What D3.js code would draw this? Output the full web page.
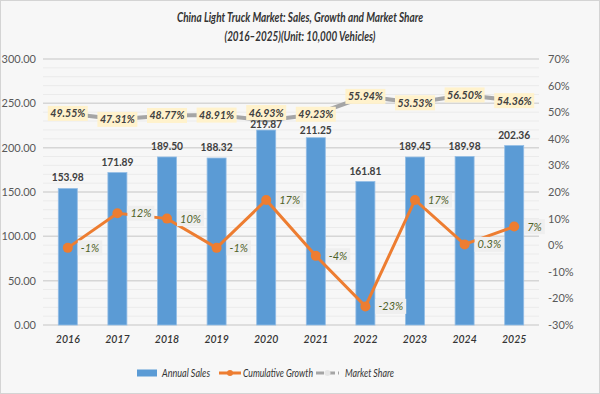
<!DOCTYPE html>
<html>
<head>
<meta charset="utf-8">
<script src="https://cdn.jsdelivr.net/npm/d3@7"></script>
<style>
  body { margin: 0; background: #fff; }
  svg text { font-family: Lato, "Noto Sans", sans-serif; }
</style>
</head>
<body>
<div id="chart"></div>
<script>
const years = ["2016", "2017", "2018", "2019", "2020", "2021", "2022", "2023", "2024", "2025"];
const sales = [153.98, 171.89, 189.50, 188.32, 219.87, 211.25, 161.81, 189.45, 189.98, 202.36];
const growth = [-1, 12, 10, -1, 17, -4, -23, 17, 0.3, 7];
const growthLabels = ["-1%", "12%", "10%", "-1%", "17%", "-4%", "-23%", "17%", "0.3%", "7%"];
const share = [49.55, 47.31, 48.77, 48.91, 46.93, 49.23, 55.94, 53.53, 56.50, 54.36];
const leftTicks = [0, 50, 100, 150, 200, 250, 300];
const rightTicks = [-30, -20, -10, 0, 10, 20, 30, 40, 50, 60, 70];

const W = 600, H = 394;
const margin = { t: 59, r: 61, b: 69, l: 43 };

const svg = d3.select("#chart").append("svg")
  .attr("width", W).attr("height", H);

// background + frame
svg.append("rect").attr("x", 0.5).attr("y", 0.5)
  .attr("width", W - 1).attr("height", H - 1)
  .attr("fill", "#f7f7f7").attr("stroke", "#d4d4d4");

var scale = {
  x: d3.scaleBand().domain(years).range([margin.l, W - margin.r]),
  y: d3.scaleLinear().domain([0, 300]).range([H - margin.b, margin.t]),
  y2: d3.scaleLinear().domain([-30, 70]).range([H - margin.b, margin.t])
};
const cx = (d, i) => scale.x(years[i]) + scale.x.bandwidth() / 2;

// squeeze a text to a max width (reference uses a condensed face)
function fit(sel, maxW) {
  sel.each(function () {
    if (this.getComputedTextLength() > maxW) {
      d3.select(this).attr("textLength", maxW).attr("lengthAdjust", "spacingAndGlyphs");
    }
  });
  return sel;
}

// title
svg.append("text").attr("x", W / 2).attr("y", 22)
  .attr("text-anchor", "middle").attr("font-size", 13.5).attr("font-style", "italic")
  .attr("font-weight", 700).attr("fill", "#333")
  .text("China Light Truck Market: Sales, Growth and Market Share")
  .call(fit, 246);
svg.append("text").attr("x", W / 2).attr("y", 41)
  .attr("text-anchor", "middle").attr("font-size", 13.5).attr("font-style", "italic")
  .attr("font-weight", 700).attr("fill", "#333")
  .text("(2016\u20132025)(Unit: 10,000 Vehicles)")
  .call(fit, 151);

// minor + major gridlines
const grid = svg.append("g");
grid.selectAll("line.minor")
  .data(d3.range(0, 301, 10).filter(v => v % 50 !== 0))
  .join("line")
  .attr("x1", margin.l).attr("x2", W - margin.r)
  .attr("y1", d => scale.y(d)).attr("y2", d => scale.y(d))
  .attr("stroke", "#ebebeb").attr("stroke-width", 1);
grid.selectAll("line.major")
  .data(leftTicks)
  .join("line")
  .attr("x1", margin.l).attr("x2", W - margin.r)
  .attr("y1", d => scale.y(d)).attr("y2", d => scale.y(d))
  .attr("stroke", "#d6d6d6").attr("stroke-width", 1.5);

// left axis
const yAxis = d3.axisLeft(scale.y).tickValues(leftTicks)
  .tickFormat(d3.format(".2f")).tickSize(0).tickPadding(7);
svg.append("g").attr("transform", "translate(" + margin.l + ",0)")
  .call(yAxis)
  .call(g => g.select(".domain").remove())
  .call(g => g.selectAll("text").attr("font-size", 11).attr("fill", "#595959"));

// right axis
const y2Axis = d3.axisRight(scale.y2).tickValues(rightTicks)
  .tickFormat(d => d + "%").tickSize(0).tickPadding(9);
svg.append("g").attr("transform", "translate(" + (W - margin.r) + ",0)")
  .call(y2Axis)
  .call(g => g.select(".domain").remove())
  .call(g => g.selectAll("text").attr("font-size", 11).attr("fill", "#595959"));

// x axis labels
const xAxis = d3.axisBottom(scale.x).tickSize(0).tickPadding(11);
svg.append("g").attr("transform", "translate(0," + (H - margin.b) + ")")
  .call(xAxis)
  .call(g => g.select(".domain").remove())
  .call(g => g.selectAll("text").attr("font-size", 10.5).attr("font-style", "italic")
    .attr("font-weight", 600).attr("fill", "#333"));

// label placement: sales label above bar, share label box centred on point;
// where they collide, the sales label drops toward the bar and the share box goes up
const boxH = 15;
const place = sales.map((s, i) => {
  const top = scale.y(s);
  let base = top - 7;
  let sy = scale.y2(share[i]);
  if (base - 9 < sy + boxH / 2) {
    base = Math.min(top - 2, sy + boxH / 2 + 12);
    if (base - 8 < sy + boxH / 2) sy = base - 8 - boxH / 2;
  }
  return { base: base, sy: sy };
});

// bars
const barW = 19;
svg.append("g").selectAll("rect")
  .data(sales)
  .join("rect")
  .attr("x", (d, i) => cx(d, i) - barW / 2)
  .attr("y", d => scale.y(d))
  .attr("width", barW)
  .attr("height", d => scale.y(0) - scale.y(d))
  .attr("fill", "#5b9bd5").attr("stroke", "#93bde5").attr("stroke-width", 0.8);

// market share line
svg.append("path").datum(share)
  .attr("d", d3.line().x(cx).y(d => scale.y2(d)))
  .attr("fill", "none").attr("stroke", "#a5a5a5").attr("stroke-width", 4);

svg.append("g").selectAll("text")
  .data(sales)
  .join("text")
  .attr("x", (d, i) => cx(d, i))
  .attr("y", (d, i) => place[i].base)
  .attr("text-anchor", "middle").attr("font-size", 11.5).attr("font-weight", 700)
  .attr("fill", "#404040")
  .text(d => d.toFixed(2))
  .call(fit, 32);

const shareLab = svg.append("g").selectAll("g")
  .data(share).join("g")
  .attr("transform", (d, i) => "translate(" + cx(d, i) + "," + place[i].sy + ")");
shareLab.append("rect")
  .attr("x", -20).attr("y", -boxH / 2).attr("width", 40).attr("height", boxH)
  .attr("fill", "#fff2cc");
shareLab.append("text")
  .attr("text-anchor", "middle").attr("dy", "0.36em")
  .attr("font-size", 11).attr("font-weight", 700).attr("font-style", "italic")
  .attr("fill", "#404040")
  .text(d => d.toFixed(2) + "%")
  .call(fit, 35);

// cumulative growth line
svg.append("path").datum(growth)
  .attr("d", d3.line().x(cx).y(d => scale.y2(d)))
  .attr("fill", "none").attr("stroke", "#ed7d31").attr("stroke-width", 3);
svg.append("g").selectAll("circle")
  .data(growth).join("circle")
  .attr("cx", cx).attr("cy", d => scale.y2(d)).attr("r", 5)
  .attr("fill", "#ed7d31");

const growLab = svg.append("g").selectAll("g")
  .data(growth).join("g")
  .attr("transform", (d, i) => "translate(" + (cx(d, i) + 10) + "," + scale.y2(d) + ")");
growLab.append("text")
  .attr("x", 3).attr("dy", "0.36em")
  .attr("font-size", 11).attr("font-style", "italic")
  .attr("fill", "#4f6228")
  .text((d, i) => growthLabels[i]);
growLab.each(function () {
  const g = d3.select(this);
  const w = g.select("text").node().getComputedTextLength();
  g.insert("rect", "text")
    .attr("x", 0).attr("y", -boxH / 2).attr("width", w + 6).attr("height", boxH)
    .attr("fill", "#efefef");
});

// legend
const lg = svg.append("g").attr("transform", "translate(0,373)");
lg.append("rect").attr("x", 137).attr("y", -3.5).attr("width", 20).attr("height", 7).attr("fill", "#5b9bd5");
lg.append("text").attr("x", 162).attr("dy", "0.35em").attr("font-size", 11.5)
  .attr("font-style", "italic").attr("fill", "#333").text("Annual Sales").call(fit, 48);
lg.append("line").attr("x1", 219).attr("x2", 241).attr("stroke", "#ed7d31").attr("stroke-width", 3);
lg.append("circle").attr("cx", 230).attr("r", 3).attr("fill", "#ed7d31");
lg.append("text").attr("x", 243).attr("dy", "0.35em").attr("font-size", 11.5)
  .attr("font-style", "italic").attr("fill", "#333").text("Cumulative Growth").call(fit, 70);
lg.append("line").attr("x1", 316).attr("x2", 339).attr("stroke", "#a5a5a5").attr("stroke-width", 3)
  .attr("stroke-dasharray", "8,3");
lg.append("circle").attr("cx", 327.5).attr("r", 3).attr("fill", "#e6e6e6");
lg.append("text").attr("x", 345).attr("dy", "0.35em").attr("font-size", 11.5)
  .attr("font-style", "italic").attr("fill", "#333").text("Market Share").call(fit, 49);
</script>
</body>
</html>
